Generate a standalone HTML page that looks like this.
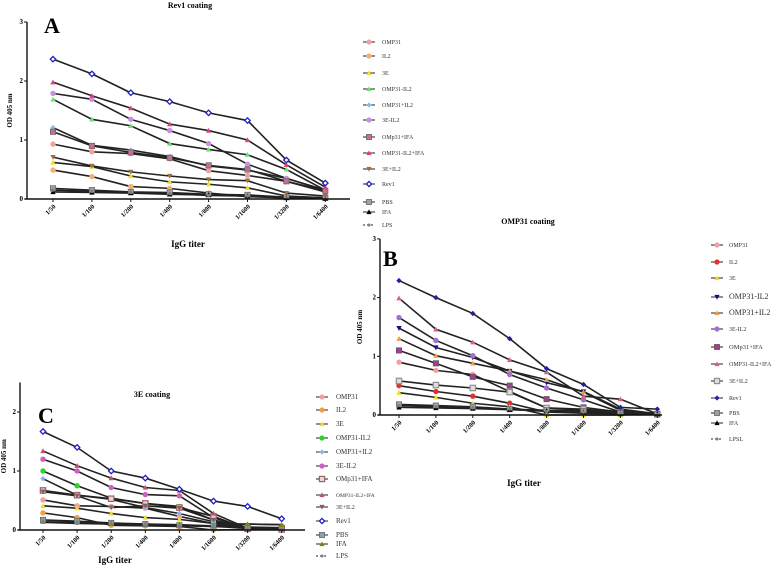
<!DOCTYPE html>
<html><head><meta charset="utf-8"><style>
html,body{margin:0;padding:0;background:#fff;}
svg{display:block;font-family:"Liberation Serif",serif;}
</style></head><body>
<svg id="fig" width="778" height="569" viewBox="0 0 778 569" xmlns="http://www.w3.org/2000/svg"></svg>
<script>
const titers = ["1/50","1/100","1/200","1/400","1/800","1/1600","1/3200","1/6400"];
const yTicks = [0,1,2,3];
const seriesNamesA = ["OMP31","IL2","3E","OMP31-IL2","OMP31+IL2","3E-IL2","OMp31+IFA","OMP31-IL2+IFA","3E+IL2","Rev1","PBS","IFA","LPS"];
const seriesNamesB = ["OMP31","IL2","3E","OMP31-IL2","OMP31+IL2","3E-IL2","OMp31+IFA","OMP31-IL2+IFA","3E+IL2","Rev1","PBS","IFA","LPSL"];
const seriesNamesC = ["OMP31","IL2","3E","OMP31-IL2","OMP31+IL2","3E-IL2","OMp31+IFA","OMP31-IL2+IFA","3E+IL2","Rev1","PBS","IFA","LPS"];

const dataA_OMP31 = [0.93,0.80,0.77,0.68,0.48,0.40,0.30,0.12];
const dataA_IL2 = [0.49,0.38,0.21,0.18,0.10,0.04,0.02,0.01];
const dataA_3E = [0.62,0.55,0.39,0.29,0.25,0.19,0.05,0.02];
const dataA_OMP31_IL2 = [1.69,1.35,1.24,0.94,0.84,0.75,0.50,0.15];
const dataA_OMP31pIL2 = [1.21,0.91,0.83,0.72,0.56,0.49,0.35,0.15];
const dataA_3E_IL2 = [1.79,1.69,1.35,1.16,0.94,0.59,0.35,0.15];
const dataA_OMP31IFA = [1.14,0.90,0.79,0.70,0.57,0.50,0.30,0.14];
const dataA_OMP31IL2IFA = [1.98,1.75,1.54,1.27,1.16,1.00,0.58,0.20];
const dataA_3EpIL2 = [0.71,0.56,0.46,0.39,0.33,0.31,0.10,0.05];
const dataA_Rev1 = [2.37,2.12,1.80,1.65,1.46,1.33,0.66,0.27];
const dataA_PBS = [0.18,0.15,0.12,0.11,0.08,0.07,0.03,0.02];
const dataA_IFA = [0.12,0.11,0.10,0.08,0.07,0.05,0.02,0.01];
const dataA_LPS = [0.15,0.13,0.11,0.09,0.06,0.05,0.02,0.01];

const dataB_OMP31 = [0.90,0.76,0.69,0.40,0.12,0.08,0.03,0.01];
const dataB_IL2 = [0.50,0.40,0.32,0.20,0.05,0.03,0.02,0.01];
const dataB_3E = [0.38,0.30,0.20,0.14,0.00,0.00,0.00,0.01];
const dataB_OMP31_IL2 = [1.48,1.15,0.98,0.75,0.55,0.40,0.10,0.02];
const dataB_OMP31pIL2 = [1.30,1.01,0.88,0.75,0.60,0.39,0.08,0.02];
const dataB_3E_IL2 = [1.66,1.27,1.01,0.69,0.46,0.26,0.05,0.02];
const dataB_OMP31IFA = [1.10,0.88,0.65,0.50,0.27,0.13,0.05,0.01];
const dataB_OMP31IL2IFA = [1.99,1.46,1.24,0.94,0.73,0.32,0.27,0.02];
const dataB_3EpIL2 = [0.58,0.51,0.46,0.39,0.12,0.10,0.04,0.01];
const dataB_Rev1 = [2.29,2.00,1.73,1.30,0.79,0.52,0.13,0.10];
const dataB_PBS = [0.18,0.16,0.14,0.10,0.08,0.07,0.03,0.02];
const dataB_IFA = [0.13,0.12,0.11,0.09,0.07,0.05,0.02,0.02];
const dataB_LPS = [0.16,0.14,0.12,0.10,0.06,0.05,0.03,0.01];

const dataC_OMP31 = [0.51,0.41,0.40,0.37,0.23,0.11,0.02,0.01];
const dataC_IL2 = [0.29,0.21,0.08,0.07,0.06,0.00,0.01,0.01];
const dataC_3E = [0.41,0.37,0.28,0.21,0.18,0.11,0.10,0.09];
const dataC_OMP31_IL2 = [1.00,0.75,0.54,0.45,0.40,0.17,0.03,0.01];
const dataC_OMP31pIL2 = [0.87,0.59,0.52,0.38,0.28,0.14,0.02,0.01];
const dataC_3E_IL2 = [1.20,1.00,0.72,0.60,0.58,0.21,0.02,0.01];
const dataC_OMP31IFA = [0.67,0.59,0.53,0.45,0.38,0.23,0.02,0.01];
const dataC_OMP31IL2IFA = [1.34,1.09,0.88,0.72,0.67,0.28,0.03,0.02];
const dataC_3EpIL2 = [0.65,0.58,0.38,0.41,0.37,0.17,0.02,0.01];
const dataC_Rev1 = [1.67,1.40,1.00,0.88,0.69,0.49,0.40,0.19];
const dataC_PBS = [0.17,0.15,0.12,0.10,0.08,0.06,0.05,0.04];
const dataC_IFA = [0.14,0.13,0.11,0.10,0.09,0.07,0.10,0.09];
const dataC_LPS = [0.13,0.11,0.10,0.09,0.07,0.06,0.03,0.02];

const NS="http://www.w3.org/2000/svg";
const svg=document.getElementById('fig');
function mk(tag,attrs,parent){const e=document.createElementNS(NS,tag);for(const k in attrs)e.setAttribute(k,attrs[k]);(parent||svg).appendChild(e);return e;}

const stylesA=[["#f4a0a0","circle"],["#f5b070","circle"],["#f0e020","tri"],["#70e070","tri"],["#80c0f0","diamond"],["#c890e0","circle"],["#c07090","square"],["#e04080","tri"],["#a07040","tridown"],["#2020c0","diamondo"],["#a0a0a0","square"],["#000","tri"],["#808080","dot"]];
const stylesB=[["#f4a0a0","circle"],["#e03030","circle"],["#f0e020","tri"],["#101080","tridown"],["#f0a040","tri"],["#a070d0","circle"],["#a04090","square"],["#e06080","tri"],["#909090","squareo"],["#2020a0","diamond"],["#a0a0a0","square"],["#000","tri"],["#808080","dot"]];
const stylesC=[["#f4a0a0","circle"],["#f0a040","circle"],["#f0e020","tri"],["#30d030","circle"],["#90b0e0","diamond"],["#d060c0","circle"],["#a06060","squareo"],["#c05070","tri"],["#806060","tridown"],["#2020c0","diamondo"],["#90a0b0","square"],["#808010","tri"],["#808080","dot"]];

function marker(g,x,y,st,s){
  const [c,t]=st;
  let e;
  if(t==="circle") e=mk('circle',{cx:x,cy:y,r:s,fill:c},g);
  else if(t==="square") e=mk('rect',{x:x-s,y:y-s,width:2*s,height:2*s,fill:c,stroke:'#555','stroke-width':0.6},g);
  else if(t==="squareo") e=mk('rect',{x:x-s,y:y-s,width:2*s,height:2*s,fill:'#ddd',stroke:c,'stroke-width':1.2},g);
  else if(t==="tri") e=mk('polygon',{points:`${x},${y-s} ${x-s},${y+s*0.8} ${x+s},${y+s*0.8}`,fill:c},g);
  else if(t==="tridown") e=mk('polygon',{points:`${x},${y+s} ${x-s},${y-s*0.8} ${x+s},${y-s*0.8}`,fill:c},g);
  else if(t==="diamond") e=mk('polygon',{points:`${x},${y-s} ${x+s},${y} ${x},${y+s} ${x-s},${y}`,fill:c},g);
  else if(t==="diamondo") e=mk('polygon',{points:`${x},${y-s} ${x+s},${y} ${x},${y+s} ${x-s},${y}`,fill:'#fff',stroke:c,'stroke-width':1.3},g);
  else e=mk('circle',{cx:x,cy:y,r:s*0.6,fill:c},g);
  return e;
}

function panel(P){
  const g=mk('g',{});
  
  
  const xs=i=>P.x0+i*P.dx;
  const ys=v=>P.y0-v*P.unit;
  P.data.forEach((d,si)=>{
    const pts=d.map((v,i)=>`${xs(i)},${ys(v)}`).join(' ');
    const pl=mk('polyline',{points:pts,fill:'none',stroke:'#222','stroke-width':1.6},g);
    
    
  });
  P.data.forEach((d,si)=>{
    d.forEach((v,i)=>{
      const m=marker(g,xs(i),ys(v),P.styles[si],2.7);
      
      
    });
  });
  const ya=mk('line',{x1:P.ax,y1:P.y0,x2:P.ax,y2:ys(P.ymax),stroke:'#111','stroke-width':1.4},g);
  
  
  const xa=mk('line',{x1:P.ax-2,y1:P.y0,x2:P.xend,y2:P.y0,stroke:'#111','stroke-width':1.4},g);
  
  
  P.ticks.forEach(t=>{
    mk('line',{x1:P.ax-3,y1:ys(t),x2:P.ax,y2:ys(t),stroke:'#111','stroke-width':1},g);
    const tx=mk('text',{x:P.ax-4,y:ys(t)+2,'font-size':7,'font-weight':'bold','text-anchor':'end'},g);
    tx.textContent=t;
    
    
  });
  titers.forEach((t,i)=>{
    mk('line',{x1:xs(i),y1:P.y0,x2:xs(i),y2:P.y0+3,stroke:'#111','stroke-width':1},g);
    const tx=mk('text',{x:xs(i)+3,y:P.y0+8,'font-size':6.5,'font-weight':'bold','text-anchor':'end',transform:`rotate(-45 ${xs(i)+3} ${P.y0+8})`},g);
    tx.textContent=t;
    
    
  });
  const yt=mk('text',{x:P.ytx,y:(P.y0+ys(P.ymax))/2,'font-size':7,'font-weight':'bold','text-anchor':'middle',transform:`rotate(-90 ${P.ytx} ${(P.y0+ys(P.ymax))/2})`},g);
  yt.textContent='OD 405 nm';
  
  
  const xt=mk('text',{x:P.xtx,y:P.xty,'font-size':9,'font-weight':'bold','text-anchor':'middle'},g);
  xt.textContent='IgG titer';
  
  
  const ti=mk('text',{x:P.ttx,y:P.tty,'font-size':8,'font-weight':'bold','text-anchor':'middle'},g);
  ti.textContent=P.title;
  
  
  const lt=mk('text',{x:P.lx,y:P.ly,'font-size':22,'font-weight':'bold'},g);
  lt.textContent=P.letter;
  
  
  P.names.forEach((n,i)=>{
    const y=P.legY[i];
    const lg=mk('g',{},g);
    
    
    mk('line',{x1:P.legX-6,y1:y,x2:P.legX+6,y2:y,stroke:'#222','stroke-width':1,'stroke-dasharray':i===12?'2,2':''},lg);
    marker(lg,P.legX,y,P.styles[i],2.6);
    const tx=mk('text',{x:P.legTX,y:y+2.2,'font-size':P.legFS[i]||6,fill:'#333'},lg);
    tx.textContent=n;
  });
}

panel({id:'a',letter:'A',title:'Rev1 coating',ttx:190,tty:8,lx:44,ly:33,
  x0:53,dx:38.9,y0:199,unit:59,ymax:3,ax:27,xend:350,ticks:yTicks,ytx:12,xtx:188,xty:247,
  names:seriesNamesA,styles:stylesA,
  data:[dataA_OMP31,dataA_IL2,dataA_3E,dataA_OMP31_IL2,dataA_OMP31pIL2,dataA_3E_IL2,dataA_OMP31IFA,dataA_OMP31IL2IFA,dataA_3EpIL2,dataA_Rev1,dataA_PBS,dataA_IFA,dataA_LPS],
  legX:369,legTX:382,legY:[42,56,73,89,105,120,137,153,169,184,202,212,225],legFS:[]});
panel({id:'b',letter:'B',title:'OMP31 coating',ttx:528,tty:224,lx:383,ly:266,
  x0:399,dx:36.9,y0:415,unit:58.7,ymax:3,ax:380,xend:662,ticks:yTicks,ytx:362,xtx:524,xty:486,
  names:seriesNamesB,styles:stylesB,
  data:[dataB_OMP31,dataB_IL2,dataB_3E,dataB_OMP31_IL2,dataB_OMP31pIL2,dataB_3E_IL2,dataB_OMP31IFA,dataB_OMP31IL2IFA,dataB_3EpIL2,dataB_Rev1,dataB_PBS,dataB_IFA,dataB_LPS],
  legX:717,legTX:729,legY:[245,262,278,297,313,329,347,364,381,398,413,423,439],legFS:[6,6,6,8,8,6,6.5,6,6,6,6,6,6]});
panel({id:'c',letter:'C',title:'3E coating',ttx:152,tty:397,lx:38,ly:423,
  x0:43,dx:34.1,y0:530,unit:59,ymax:2.5,ax:20,xend:305,ticks:[0,1,2],ytx:6,xtx:115,xty:563,
  names:seriesNamesC,styles:stylesC,
  data:[dataC_OMP31,dataC_IL2,dataC_3E,dataC_OMP31_IL2,dataC_OMP31pIL2,dataC_3E_IL2,dataC_OMP31IFA,dataC_OMP31IL2IFA,dataC_3EpIL2,dataC_Rev1,dataC_PBS,dataC_IFA,dataC_LPS],
  legX:322,legTX:336,legY:[397,410,424,438,452,466,479,495,507,521,535,544,556],legFS:[7,7,7,7,7,7,7,5.5,6,7,7,7,7]});
</script>
</body></html>
